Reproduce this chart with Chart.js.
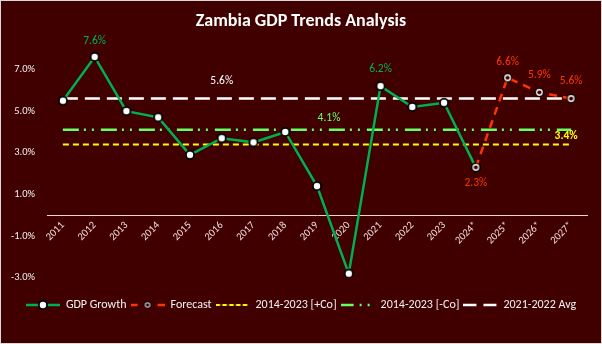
<!DOCTYPE html>
<html>
<head>
<meta charset="utf-8">
<title>Zambia GDP Trends Analysis</title>
<script src="https://cdn.jsdelivr.net/npm/chart.js@4.4.0/dist/chart.umd.min.js"></script>
<style>
    html, body { margin: 0; padding: 0; background: #400000; }
</style>
</head>
<body>
<canvas id="gdpChart" width="602" height="344"></canvas>
<script>
// ===== DATA =====
const years = ['2011', '2012', '2013', '2014', '2015', '2016', '2017', '2018', '2019', '2020',
               '2021', '2022', '2023', '2024*', '2025*', '2026*', '2027*'];
const gdpGrowth = [5.5, 7.6, 5.0, 4.7, 2.9, 3.7, 3.5, 4.0, 1.4, -2.8, 6.2, 5.2, 5.4, 2.3];
const forecast = [null, null, null, null, null, null, null, null, null, null, null, null, null,
                  2.3, 6.6, 5.9, 5.6];
const avgPlusCo = 3.4;    // 2014-2023 [+Co]
const avgMinusCo = 4.1;   // 2014-2023 [-Co]
const avgRecent = 5.6;    // 2021-2022 Avg
const yTicks = [-3, -1, 1, 3, 5, 7];
const yMin = -3;
const yMax = 8;

// ===== STYLE =====
const BG = '#400000';
const GREEN = '#00b050';
const RED = '#ff3300';
const YELLOW = '#ffff00';
const LIME = '#66ff66';
const WHITE = '#ffffff';
const FONT = 'Carlito, Calibri, Lato, sans-serif';

// small canvas images used as point markers / legend samples
function makeMarker(rings) {
    const size = Math.ceil(rings[0][0] * 2) + 2;
    const c = document.createElement('canvas');
    c.width = size;
    c.height = size;
    const g = c.getContext('2d');
    rings.forEach(([r, col]) => {
        g.beginPath();
        g.arc(size / 2, size / 2, r, 0, Math.PI * 2);
        g.fillStyle = col;
        g.fill();
    });
    return c;
}

function makeSample(color, dash, width, marker) {
    const c = document.createElement('canvas');
    c.width = 34;
    c.height = 12;
    const g = c.getContext('2d');
    g.strokeStyle = color;
    g.lineWidth = width;
    g.setLineDash(dash);
    g.beginPath();
    g.moveTo(0, 6);
    g.lineTo(34, 6);
    g.stroke();
    if (marker) g.drawImage(marker, 17 - marker.width / 2, 6 - marker.height / 2);
    return c;
}

const gdpMarker = makeMarker([[5, '#000000'], [3.2, WHITE]]);
const fcMarker = makeMarker([[4.5, '#000000'], [3.4, WHITE], [2.1, BG]]);
const fcLegendMarker = makeMarker([[3.6, '#000000'], [2.8, '#d9d9d9'], [1.7, BG]]);

const legendItems = [
    { text: 'GDP Growth', img: makeSample(GREEN, [], 2.5, gdpMarker) },
    { text: 'Forecast', img: makeSample(RED, [7, 20, 7], 2.5, fcLegendMarker) },
    { text: '2014-2023 [+Co]', img: makeSample(YELLOW, [4.5, 2.3], 2, null) },
    { text: '2014-2023 [-Co]', img: makeSample(LIME, [13, 6, 2, 6, 2, 5], 2.5, null) },
    { text: '2021-2022 Avg', img: makeSample(WHITE, [13, 7], 2.5, null) }
];

// data labels: value, category index, offsets, colour
const dataLabels = [
    { value: gdpGrowth[1], i: 1, dx: 0, dy: -16, color: GREEN },
    { value: gdpGrowth[10], i: 10, dx: 0, dy: -17, color: GREEN },
    { value: forecast[13], i: 13, dx: 0, dy: 16, color: RED },
    { value: forecast[14], i: 14, dx: 0, dy: -16, color: RED },
    { value: forecast[15], i: 15, dx: 0, dy: -17, color: RED },
    { value: forecast[16], i: 16, dx: 0, dy: -17, color: RED },
    { value: avgRecent, i: 5, dx: 0, dy: -17, color: WHITE },
    { value: avgMinusCo, i: 8, dx: 12, dy: -12, color: LIME },
    { value: avgPlusCo, i: 16, dx: -5, dy: -8, color: YELLOW, bold: true }
];

function flatLine(v) {
    return [{ x: years[0], y: v }, { x: years[years.length - 1], y: v }];
}

// ===== PLUGINS =====
const backgroundPlugin = {
    id: 'background',
    beforeDraw(chart) {
        const ctx = chart.ctx;
        ctx.save();
        ctx.fillStyle = BG;
        ctx.fillRect(0, 0, chart.width, chart.height);
        ctx.strokeStyle = '#d9d9d9';
        ctx.lineWidth = 1;
        ctx.strokeRect(0.5, 0.5, chart.width - 1, chart.height - 1);
        ctx.restore();
    }
};

// title and legend are centred on the whole canvas, not on the padded box
const centerPlugin = {
    id: 'centerBlocks',
    afterLayout(chart) {
        [chart.titleBlock, chart.legend].forEach(b => {
            if (!b) return;
            b.left = 0;
            b.right = chart.width;
        });
    }
};

const labelPlugin = {
    id: 'valueLabels',
    afterDatasetsDraw(chart) {
        const ctx = chart.ctx;
        const xs = chart.scales.x;
        const ys = chart.scales.y;
        ctx.save();
        ctx.textAlign = 'center';
        ctx.textBaseline = 'middle';
        dataLabels.forEach(l => {
            ctx.font = (l.bold ? 'bold ' : '') + '11.5px ' + FONT;
            ctx.fillStyle = l.color;
            const x = xs.getPixelForValue(l.i) + l.dx;
            const y = ys.getPixelForValue(l.value) + l.dy;
            ctx.fillText(l.value.toFixed(1) + '%', x, y);
        });
        ctx.restore();
    }
};

// ===== CHART =====
const ctx = document.getElementById('gdpChart').getContext('2d');
new Chart(ctx, {
    type: 'line',
    data: {
        labels: years,
        datasets: [
            {
                label: 'GDP Growth',
                data: gdpGrowth,
                borderColor: GREEN,
                borderWidth: 2.5,
                pointStyle: gdpMarker,
                pointRadius: 4,
                tension: 0,
                order: 1
            },
            {
                label: 'Forecast',
                data: forecast,
                borderColor: RED,
                borderWidth: 2.5,
                borderDash: [8, 6],
                pointStyle: fcMarker,
                pointRadius: 4,
                tension: 0,
                order: 0
            },
            {
                label: '2014-2023 [+Co]',
                data: flatLine(avgPlusCo),
                borderColor: YELLOW,
                borderWidth: 2,
                borderDash: [6, 4],
                pointRadius: 0,
                order: 4
            },
            {
                label: '2014-2023 [-Co]',
                data: flatLine(avgMinusCo),
                borderColor: LIME,
                borderWidth: 2.5,
                borderDash: [16, 5, 2, 6, 2, 7],
                pointRadius: 0,
                order: 3
            },
            {
                label: '2021-2022 Avg',
                data: flatLine(avgRecent),
                borderColor: WHITE,
                borderWidth: 2.5,
                borderDash: [15, 7],
                pointRadius: 0,
                order: 2
            }
        ]
    },
    options: {
        responsive: false,
        animation: false,
        layout: {
            padding: { top: 0, right: 15, bottom: 23, left: 0 }
        },
        scales: {
            x: {
                type: 'category',
                offset: true,
                position: { y: 0 },
                grid: { display: false, drawTicks: false },
                border: { display: true, color: '#ead5d5', width: 1 },
                ticks: {
                    color: '#f2dcdb',
                    font: { family: FONT, size: 10.5 },
                    minRotation: 45,
                    maxRotation: 45,
                    autoSkip: false,
                    padding: 4
                }
            },
            y: {
                min: yMin,
                max: yMax,
                grid: { display: false, drawTicks: false },
                border: { display: false },
                afterBuildTicks: scale => {
                    scale.ticks = yTicks.map(v => ({ value: v }));
                },
                afterFit: scale => {
                    scale.width = 47;
                },
                ticks: {
                    color: '#f2f2f2',
                    font: { family: FONT, size: 10.5 },
                    padding: 12,
                    callback: v => v.toFixed(1) + '%'
                }
            }
        },
        plugins: {
            title: {
                display: true,
                text: 'Zambia GDP Trends Analysis',
                color: WHITE,
                font: { family: FONT, size: 18, weight: 'bold' },
                padding: { top: 11, bottom: 16 }
            },
            legend: {
                position: 'bottom',
                title: {
                    display: true,
                    text: ' ',
                    font: { size: 1 },
                    padding: { top: 16, bottom: 0 }
                },
                labels: {
                    usePointStyle: true,
                    pointStyleWidth: 34,
                    padding: 4,
                    font: { family: FONT, size: 12 },
                    color: '#f2f2f2',
                    generateLabels: () => legendItems.map((it, idx) => ({
                        text: it.text,
                        pointStyle: it.img,
                        fillStyle: 'transparent',
                        strokeStyle: 'transparent',
                        lineWidth: 0,
                        hidden: false,
                        datasetIndex: idx,
                        fontColor: '#f2f2f2'
                    }))
                }
            },
            tooltip: { enabled: false }
        }
    },
    plugins: [backgroundPlugin, centerPlugin, labelPlugin]
});
</script>
</body>
</html>
